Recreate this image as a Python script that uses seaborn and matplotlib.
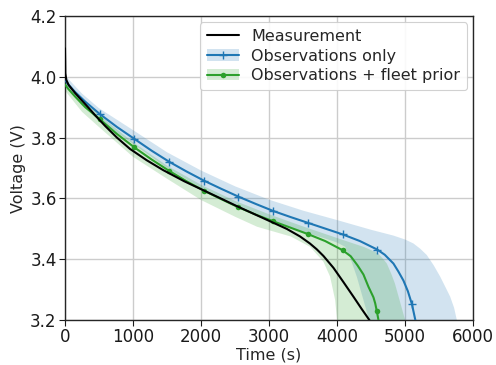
import numpy as np
import matplotlib
matplotlib.use("Agg")
import matplotlib.pyplot as plt
import seaborn as sns
from matplotlib.patches import Patch
from matplotlib.lines import Line2D

# ---- data ----
meas_t = [0, 3, 5, 20, 54, 152, 250, 348, 446, 593, 765, 956, 1200, 1446, 1750, 2025,
          2300, 2534, 2721, 3015, 3260, 3456, 3600, 3700, 3799, 3946, 4093, 4240, 4363,
          4475]
meas_v = [4.094, 4.05, 4.012, 3.99, 3.973, 3.946, 3.922, 3.898, 3.873, 3.838, 3.800,
          3.763, 3.726, 3.693, 3.657, 3.628, 3.599, 3.574, 3.555, 3.525, 3.500, 3.475,
          3.452, 3.433, 3.411, 3.372, 3.325, 3.277, 3.236, 3.2]

obs_t = [0, 50, 150, 300, 510, 765, 1020, 1275, 1530, 1785, 2040, 2295, 2550, 2805, 3060,
         3315, 3570, 3825, 4080, 4335, 4590, 4700, 4828, 4900, 4975, 5040, 5100, 5150]
obs_v = [3.99, 3.975, 3.95, 3.918, 3.878, 3.835, 3.796, 3.757, 3.721, 3.689, 3.659,
         3.632, 3.606, 3.582, 3.559, 3.539, 3.52, 3.501, 3.482, 3.46, 3.432, 3.415, 3.386,
         3.36, 3.33, 3.295, 3.252, 3.2]
obs_marks = [510, 1020, 1530, 2040, 2550, 3060, 3570, 4080, 4590, 5100]

fleet_t = [0, 50, 150, 300, 510, 765, 1020, 1275, 1530, 1785, 2040, 2295, 2550, 2805,
           3060, 3315, 3570, 3825, 4080, 4200, 4300, 4387, 4460, 4534, 4560, 4583, 4608]
fleet_v = [3.975, 3.96, 3.935, 3.9, 3.861, 3.812, 3.768, 3.728, 3.691, 3.657, 3.626,
           3.598, 3.571, 3.547, 3.525, 3.504, 3.483, 3.46, 3.43, 3.41, 3.38, 3.35, 3.31,
           3.275, 3.255, 3.23, 3.2]
fleet_marks = [510, 1020, 1530, 2040, 2550, 3060, 3570, 4080, 4583]

obs_up_t = [0, 250, 500, 1000, 1500, 2000, 2500, 3000, 3500, 4000, 4500, 4828, 5000,
            5122, 5220, 5318, 5420, 5515, 5600, 5662, 5720, 5760]
obs_up_v = [4.005, 3.945, 3.897, 3.825, 3.752, 3.692, 3.64, 3.596, 3.56, 3.529, 3.497,
            3.478, 3.465, 3.452, 3.435, 3.414, 3.38, 3.343, 3.305, 3.277, 3.24, 3.2]
obs_lo_t = [0, 250, 500, 1000, 1500, 2000, 2500, 3000, 3500, 3800, 4000, 4118, 4200,
            4289, 4387, 4470]
obs_lo_v = [3.975, 3.905, 3.858, 3.78, 3.70, 3.635, 3.58, 3.533, 3.49, 3.47, 3.455,
            3.441, 3.40, 3.343, 3.266, 3.2]

fleet_up_t = [0, 250, 500, 1000, 1500, 2000, 2500, 3000, 3500, 4000, 4400, 4600, 4680,
              4731, 4800, 4850, 4900, 4950, 5000]
fleet_up_v = [3.99, 3.925, 3.875, 3.785, 3.708, 3.645, 3.592, 3.548, 3.508, 3.47, 3.44,
              3.42, 3.40, 3.386, 3.35, 3.32, 3.28, 3.24, 3.2]
fleet_lo_t = [0, 250, 500, 1000, 1500, 2000, 2500, 2824, 3319, 3603, 3799, 3897, 3971,
              4000]
fleet_lo_v = [3.955, 3.885, 3.835, 3.737, 3.665, 3.595, 3.54, 3.507, 3.475, 3.441,
              3.392, 3.343, 3.266, 3.2]

labels = ["Measurement", "Observations only", "Observations + fleet prior"]
xticks = [0, 1000, 2000, 3000, 4000, 5000, 6000]
yticks = [3.2, 3.4, 3.6, 3.8, 4.0, 4.2]

# ---- style ----
sns.set_style("whitegrid")
plt.rcParams.update({
    "font.family": ["DejaVu Sans"],
    "axes.edgecolor": "0.15",
    "axes.linewidth": 1.0,
    "grid.color": "0.8",
    "grid.linewidth": 1.0,
    "xtick.bottom": True,
    "ytick.left": True,
    "xtick.major.size": 4,
    "ytick.major.size": 4,
    "xtick.color": "0.1",
    "ytick.color": "0.1",
})

BLUE = "#1f77b4"
GREEN = "#2ca02c"

fig = plt.figure(figsize=(4.96, 3.65), dpi=100)
ax = fig.add_axes([0.131, 0.123, 0.823, 0.833])

def band(ut, uv, lt, lv, color):
    xs = np.concatenate([ut, lt[::-1]])
    ys = np.concatenate([uv, lv[::-1]])
    ax.fill(xs, ys, color=color, alpha=0.2, linewidth=0, zorder=1)

band(obs_up_t, obs_up_v, obs_lo_t, obs_lo_v, BLUE)
band(fleet_up_t, fleet_up_v, fleet_lo_t, fleet_lo_v, GREEN)

sns.lineplot(x=meas_t, y=meas_v, color="black", lw=1.5, sort=False, ax=ax, zorder=4)
sns.lineplot(x=obs_t, y=obs_v, color=BLUE, lw=1.5, sort=False, ax=ax, zorder=3,
             marker="+", markersize=6, markeredgewidth=1.0, markeredgecolor=BLUE,
             markevery=[obs_t.index(m) for m in obs_marks])
sns.lineplot(x=fleet_t, y=fleet_v, color=GREEN, lw=1.5, sort=False, ax=ax, zorder=3,
             marker="o", markersize=4, markeredgewidth=0, markerfacecolor=GREEN,
             markevery=[fleet_t.index(m) for m in fleet_marks])

ax.set_xlim(0, 6000)
ax.set_ylim(3.2, 4.2)
ax.set_xticks(xticks)
ax.set_yticks(yticks)
ax.set_yticklabels([f"{v:.1f}" for v in yticks])
ax.tick_params(labelsize=12, pad=2)
ax.set_xlabel("Time (s)", fontsize=11.5, labelpad=1)
ax.set_ylabel("Voltage (V)", fontsize=11.5, labelpad=3)
for s in ax.spines.values():
    s.set_visible(True)
    s.set_color("0.15")

h_meas = Line2D([], [], color="black", lw=1.5)
h_obs = (Patch(facecolor=BLUE, alpha=0.2, edgecolor="none"),
         Line2D([], [], color=BLUE, lw=1.5, marker="+", markersize=6, markeredgewidth=1.0))
h_fleet = (Patch(facecolor=GREEN, alpha=0.2, edgecolor="none"),
           Line2D([], [], color=GREEN, lw=1.5, marker="o", markersize=4, markeredgewidth=0))
leg = ax.legend([h_meas, h_obs, h_fleet], labels, loc="upper right", fontsize=11.5,
                frameon=True, framealpha=0.9, edgecolor="0.8", borderaxespad=0.4,
                handlelength=2.0, labelspacing=0.3, borderpad=0.4)
leg.get_frame().set_linewidth(0.8)

fig.savefig("out.png", dpi=100)
